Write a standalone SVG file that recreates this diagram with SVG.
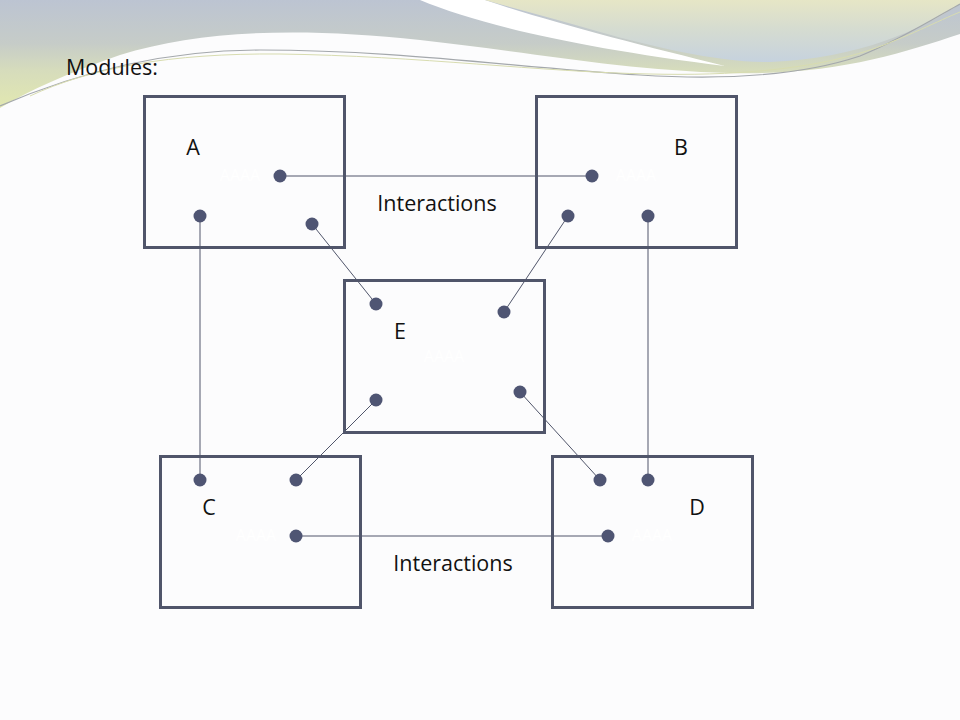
<svg xmlns="http://www.w3.org/2000/svg" width="960" height="720" viewBox="0 0 960 720">
<defs>
<linearGradient id="g1" x1="0" y1="0" x2="0" y2="1">
<stop offset="0" stop-color="#bcc4d2"/>
<stop offset="0.4" stop-color="#c6ccc8"/>
<stop offset="0.65" stop-color="#d6dcbc"/>
<stop offset="1" stop-color="#e2e8b0"/>
</linearGradient>
<linearGradient id="g2" x1="0" y1="0" x2="0" y2="1">
<stop offset="0" stop-color="#e6e6c6"/>
<stop offset="0.45" stop-color="#d6dcd0"/>
<stop offset="1" stop-color="#c6d2de"/>
</linearGradient>
<style>
.box{fill:none;stroke:#50556a;stroke-width:3}
.dot{fill:#4f5573}
.con{stroke:#50556a;stroke-width:1;fill:none}
.lbl{font-family:"Open Sans","Liberation Sans",sans-serif;font-size:21.5px;fill:#111}
.ghost{font-family:"Open Sans","Liberation Sans",sans-serif;font-size:16px;fill:#ffffff;text-anchor:middle}
</style>
</defs>
<rect width="960" height="720" fill="#fcfcfd"/>
<g id="background">
<path d="M0,0 H960 V34 C900,54 830,76 730,73 C620,70 530,52 420,40 C300,27 200,30 120,55 C70,72 30,90 0,108 Z" fill="url(#g1)"/>
<path d="M420,0 C480,25 580,48 725,66 C640,45 550,22 485,0 Z" fill="#ffffff"/>
<path d="M485,0 H960 V4 C920,30 860,58 770,62 C720,63 650,46 600,32 C560,20 520,10 485,0 Z" fill="url(#g2)"/>
<path d="M0,106 C60,80 150,50 260,50 C400,50 520,68 640,75 C720,80 800,76 860,56 C900,40 940,15 960,4" fill="none" stroke="#a4a8ac" stroke-width="1.2"/>
<path d="M30,96 C90,68 170,53 280,54 C420,56 540,72 650,74 C730,76 810,70 870,50 C905,38 940,20 960,12" fill="none" stroke="#d8dcb0" stroke-width="1"/>
</g>
<text class="lbl" x="66" y="75">Modules:</text>
<g id="connectors">
<line class="con" x1="280" y1="176" x2="592" y2="176"/>
<line class="con" x1="200" y1="216" x2="200" y2="480"/>
<line class="con" x1="312" y1="224" x2="376" y2="304"/>
<line class="con" x1="568" y1="216" x2="504" y2="312"/>
<line class="con" x1="648" y1="216" x2="648" y2="480"/>
<line class="con" x1="376" y1="400" x2="296" y2="480"/>
<line class="con" x1="520" y1="392" x2="600" y2="480"/>
<line class="con" x1="296" y1="536" x2="608" y2="536"/>
<text class="lbl" x="437" y="211" text-anchor="middle">Interactions</text>
<text class="lbl" x="453" y="571" text-anchor="middle">Interactions</text>
</g>
<g id="A">
<rect class="box" x="144.5" y="96.5" width="200" height="151"/>
<text class="lbl" x="193" y="155" text-anchor="middle">A</text>
<text class="ghost" x="240" y="181">AAAA</text>
<circle class="dot" cx="280" cy="176" r="6.5"/>
<circle class="dot" cx="200" cy="216" r="6.5"/>
<circle class="dot" cx="312" cy="224" r="6.5"/>
</g>
<g id="B">
<rect class="box" x="536.5" y="96.5" width="200" height="151"/>
<text class="lbl" x="681" y="155" text-anchor="middle">B</text>
<text class="ghost" x="636" y="181">AAAA</text>
<circle class="dot" cx="592" cy="176" r="6.5"/>
<circle class="dot" cx="568" cy="216" r="6.5"/>
<circle class="dot" cx="648" cy="216" r="6.5"/>
</g>
<g id="E">
<rect class="box" x="344.5" y="280.5" width="200" height="152"/>
<text class="lbl" x="400" y="339" text-anchor="middle">E</text>
<text class="ghost" x="444" y="362">AAAA</text>
<circle class="dot" cx="376" cy="304" r="6.5"/>
<circle class="dot" cx="504" cy="312" r="6.5"/>
<circle class="dot" cx="376" cy="400" r="6.5"/>
<circle class="dot" cx="520" cy="392" r="6.5"/>
</g>
<g id="C">
<rect class="box" x="160.5" y="456.5" width="200" height="151"/>
<text class="lbl" x="209" y="515" text-anchor="middle">C</text>
<text class="ghost" x="256" y="541">AAAA</text>
<circle class="dot" cx="200" cy="480" r="6.5"/>
<circle class="dot" cx="296" cy="480" r="6.5"/>
<circle class="dot" cx="296" cy="536" r="6.5"/>
</g>
<g id="D">
<rect class="box" x="552.5" y="456.5" width="200" height="151"/>
<text class="lbl" x="697" y="515" text-anchor="middle">D</text>
<text class="ghost" x="652" y="541">AAAA</text>
<circle class="dot" cx="600" cy="480" r="6.5"/>
<circle class="dot" cx="648" cy="480" r="6.5"/>
<circle class="dot" cx="608" cy="536" r="6.5"/>
</g>
</svg>
